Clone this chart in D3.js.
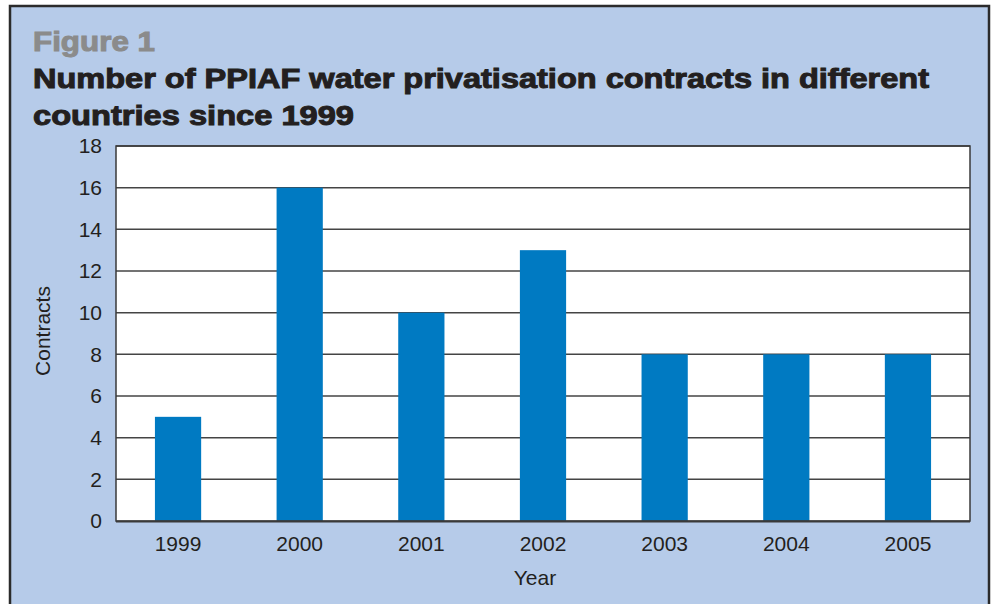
<!DOCTYPE html>
<html>
<head>
<meta charset="utf-8">
<script src="https://cdn.jsdelivr.net/npm/d3@7"></script>
<style>
  body { margin: 0; background: #fff; }
  text { font-family: "Liberation Sans", Arial, Helvetica, sans-serif; }
</style>
</head>
<body>
<div id="chart"></div>
<script>
const years = ["1999", "2000", "2001", "2002", "2003", "2004", "2005"]
const contracts = [5, 16, 10, 13, 8, 8, 8]
const yTicks = [0, 2, 4, 6, 8, 10, 12, 14, 16, 18]

const width = 991, height = 604
const margin = { left: 116, top: 146, right: 21, bottom: 83 }
const plotW = width - margin.left - margin.right
const plotH = height - margin.top - margin.bottom

const svg = d3.select("#chart").append("svg")
  .attr("width", width)
  .attr("height", height)

// blue panel with dark frame
svg.append("rect")
  .attr("x", 10).attr("y", 6)
  .attr("width", 979).attr("height", 640)
  .attr("fill", "#b6cbe9")
  .attr("stroke", "#2b2b2b")
  .attr("stroke-width", 2.5)

// titles
svg.append("text")
  .attr("x", 33).attr("y", 51)
  .attr("font-size", 27).attr("font-weight", "bold")
  .attr("fill", "#8b8b8b").attr("stroke", "#8b8b8b").attr("stroke-width", 1)
  .attr("textLength", 122).attr("lengthAdjust", "spacingAndGlyphs")
  .text("Figure 1")

const titleLines = [
  { txt: "Number of PPIAF water privatisation contracts in different", y: 88, len: 896 },
  { txt: "countries since 1999", y: 125, len: 321 }
]
svg.selectAll(".title").data(titleLines).join("text")
  .attr("class", "title")
  .attr("x", 33).attr("y", d => d.y)
  .attr("font-size", 27).attr("font-weight", "bold")
  .attr("fill", "#231f20").attr("stroke", "#231f20").attr("stroke-width", 1)
  .attr("textLength", d => d.len).attr("lengthAdjust", "spacingAndGlyphs")
  .text(d => d.txt)

const x = d3.scaleBand()
  .domain(years)
  .range([0, plotW])
  .paddingInner(0.62)
  .paddingOuter(0.32)

const y = d3.scaleLinear()
  .domain([0, 18])
  .range([plotH, 0])

const g = svg.append("g")
  .attr("transform", `translate(${margin.left}, ${margin.top})`)

g.append("rect")
  .attr("width", plotW).attr("height", plotH)
  .attr("fill", "#fff")

// grid lines
g.append("g")
  .selectAll("line")
  .data(yTicks.filter(t => t > 0))
  .join("line")
  .attr("x1", 0).attr("x2", plotW)
  .attr("y1", d => y(d)).attr("y2", d => y(d))
  .attr("stroke", "#444")
  .attr("stroke-width", 1.5)

// bars
g.append("g")
  .selectAll("rect")
  .data(years)
  .join("rect")
  .attr("x", d => x(d))
  .attr("y", (d, i) => y(contracts[i]))
  .attr("width", x.bandwidth())
  .attr("height", (d, i) => plotH - y(contracts[i]))
  .attr("fill", "#007ac2")

// plot frame
g.append("rect")
  .attr("width", plotW).attr("height", plotH)
  .attr("fill", "none")
  .attr("stroke", "#3a3a3a")
  .attr("stroke-width", 1.5)
g.append("line")
  .attr("x1", 0).attr("x2", plotW)
  .attr("y1", plotH + 0.5).attr("y2", plotH + 0.5)
  .attr("stroke", "#3a3a3a").attr("stroke-width", 2)

// axes
const yAxis = g.append("g")
  .call(d3.axisLeft(y).tickValues(yTicks).tickSize(0).tickPadding(14))
yAxis.select(".domain").remove()
yAxis.selectAll("text")
  .attr("font-size", 21)
  .attr("fill", "#231f20")
  .attr("font-family", "Liberation Sans, Arial, sans-serif")

const xAxis = g.append("g")
  .attr("transform", `translate(0, ${plotH})`)
  .call(d3.axisBottom(x).tickSize(0).tickPadding(15))
xAxis.select(".domain").remove()
xAxis.selectAll("text")
  .attr("font-size", 21)
  .attr("fill", "#231f20")
  .attr("font-family", "Liberation Sans, Arial, sans-serif")

// axis titles
svg.append("text")
  .attr("transform", "translate(50, 331) rotate(-90)")
  .attr("text-anchor", "middle")
  .attr("font-size", 21)
  .attr("fill", "#231f20")
  .text("Contracts")

svg.append("text")
  .attr("x", 535).attr("y", 585)
  .attr("text-anchor", "middle")
  .attr("font-size", 21)
  .attr("fill", "#231f20")
  .text("Year")
</script>
</body>
</html>
